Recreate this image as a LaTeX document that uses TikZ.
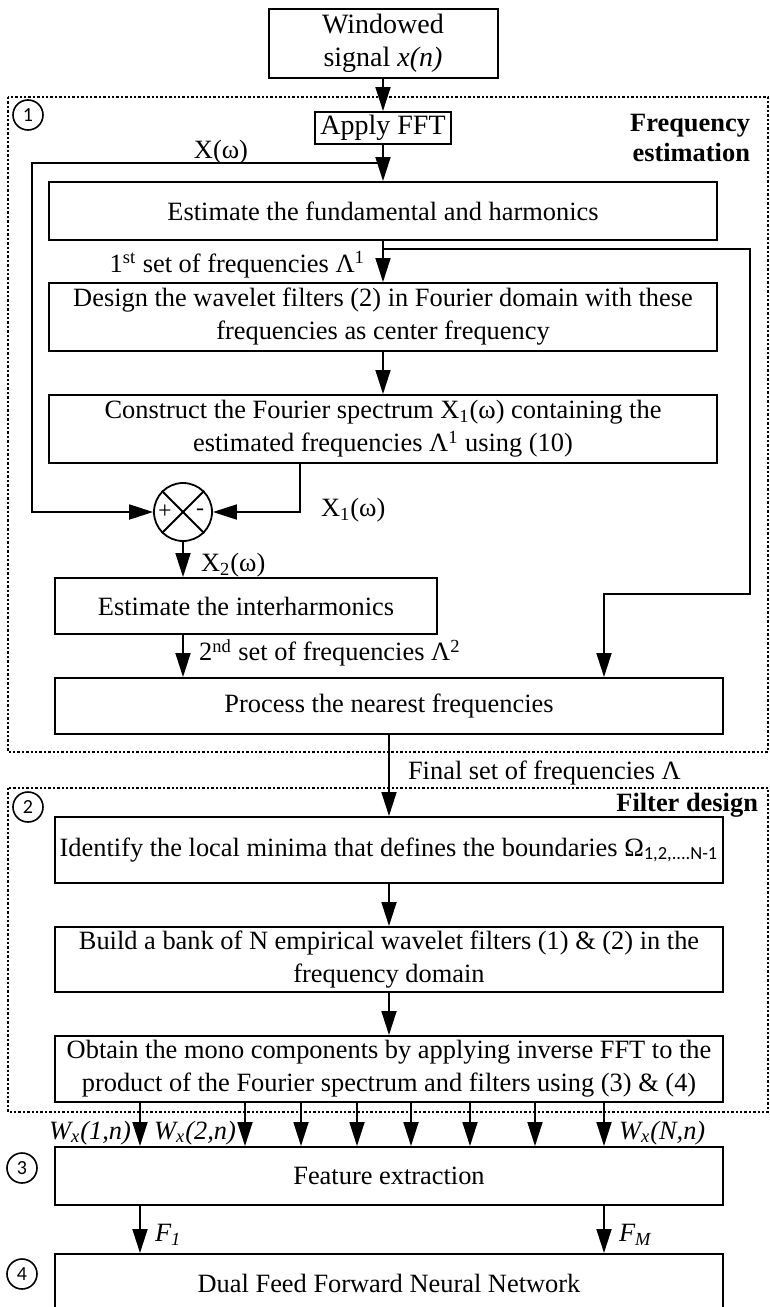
\documentclass[tikz,border=0pt]{standalone}
\usepackage{fontspec}
\setmainfont{Liberation Serif}
\newfontfamily\numfont{Carlito}
\usetikzlibrary{positioning, arrows.meta, calc}

\begin{document}
\begin{tikzpicture}[
    x=0.5pt, y=-0.5pt,
    >={Triangle[length=12pt, width=7.5pt]},
    font=\fontsize{13.2}{16.5}\selectfont,
    stage/.style={
        draw, line width=1pt, inner sep=0pt, align=center,
    },
    wide/.style={stage, minimum width=334pt},
    big/.style={font=\fontsize{14}{16.5}\selectfont},
    flow/.style={->, line width=0.9pt},
    group/.style={draw, line width=0.8pt, dash pattern=on 1.2pt off 1pt},
    tag/.style={
        draw, circle, line width=0.8pt, minimum size=15pt, inner sep=0pt,
        font=\numfont\fontsize{10}{10}\selectfont,
    },
    sumnode/.style={draw, circle, line width=0.9pt, minimum size=29pt, inner sep=0pt},
    title/.style={anchor=east, align=right, font=\bfseries\fontsize{13.2}{15}\selectfont},
    sig/.style={font=\fontsize{13.2}{16.5}\selectfont\itshape},
]

\useasboundingbox (0,0) rectangle (770,1307);

% dotted frames
\draw[group] (8,97) rectangle (768,752);
\draw[group] (8,788) rectangle (768,1112);

\node[tag] (t1) at (28,115) {1};
\node[tag] (t2) at (28,807) {2};
\node[tag] (t3) at (22,1168) {3};
\node[tag] (t4) at (22,1274) {4};

\node[title] (fe) at (757,138) {Frequency\\estimation};
\node[title] (fd) at (765,805) {Filter design};

% boxes
\node[stage, big, minimum width=114.5pt, minimum height=34.5pt] (win) at (383,43.5) {Windowed\\signal \textit{x(n)}};
\node[stage, big, minimum width=68pt, minimum height=16pt] (fft) at (383,128) {Apply FFT};
\node[wide, minimum height=29pt] (est) at (383,211) {Estimate the fundamental and harmonics};
\node[wide, minimum height=34pt] (design) at (383,317) {Design the wavelet filters (2) in Fourier domain with these\\frequencies as center frequency};
\node[wide, minimum height=34pt] (constr) at (383,429) {Construct the Fourier spectrum X\textsubscript{1}(ω) containing the\\estimated frequencies Λ\textsuperscript{1} using (10)};
\node[sumnode] (sum) at (183,512) {};
\node[stage, minimum width=191pt, minimum height=28pt] (inter) at (246,606) {Estimate the interharmonics};
\node[wide, minimum height=28pt] (proc) at (389,706) {Process the nearest frequencies};
\node[wide, minimum height=33pt] (ident) at (389,850) {Identify the local minima that defines the boundaries Ω\textsubscript{\numfont 1,2,....N-1}};
\node[wide, minimum height=32.5pt] (build) at (389,959.5) {Build a bank of N empirical wavelet filters (1) \& (2) in the\\frequency domain};
\node[wide, minimum height=33pt] (obtain) at (389,1069) {Obtain the mono components by applying inverse FFT to the\\product of the Fourier spectrum and filters using (3) \& (4)};
\node[wide, minimum height=29pt] (feat) at (389,1176) {Feature extraction};
\node[wide, minimum height=29pt] (dual) at (389,1283) {Dual Feed Forward Neural Network};

% summing junction
\draw[line width=0.9pt] (sum.north west) -- (sum.south east);
\draw[line width=0.9pt] (sum.north east) -- (sum.south west);
\node[font=\fontsize{12}{12}\selectfont] (plus) at ([xshift=-9pt]sum.center) {+};
\node[font=\fontsize{12}{12}\selectfont] (minus) at ([xshift=8.5pt]sum.center) {-};

% flow
\draw[flow] (win) -- (fft);
\draw[flow] (fft) -- (est);
\coordinate (fb) at (383,163);
\draw[flow] (fb) -- ++(-351,0) |- (sum.west);
\node (xw) at (221,152) {X(ω)};

\draw[flow] (est) -- (design);
\node[anchor=east] (set1) at (372,265) {1\textsuperscript{st} set of frequencies Λ\textsuperscript{1}};
\coordinate (br) at (383,249);
\coordinate (rt) at (604,594);
\draw[flow] (br) -| (750,594) -- (rt) -- (rt |- proc.north);

\draw[flow] (design) -- (constr);
\draw[flow] ([xshift=-41.5pt]constr.south) |- (sum.east);
\node[anchor=west] (x1) at (314,510) {X\textsubscript{1}(ω)};

\draw[flow] (sum) -- (sum |- inter.north);
\node[anchor=west] (x2) at (194,565) {X\textsubscript{2}(ω)};
\draw[flow] (sum |- inter.south) -- (sum |- proc.north);
\node[anchor=west] (set2) at (192,653) {2\textsuperscript{nd} set of frequencies Λ\textsuperscript{2}};

\draw[flow] (proc) -- (ident);
\node[anchor=west] (fin) at (401,773) {Final set of frequencies Λ};
\draw[flow] (ident) -- (build);
\draw[flow] (build) -- (obtain);

% mono components
\coordinate (wy) at (0,1133);
\foreach \x [count=\i] in {140,245,301,357,411,470,535,604} {
    \coordinate (w\i) at (\x,0);
    \draw[flow] (w\i |- obtain.south) -- (w\i |- feat.north);
}
\node[sig, left=1pt] (wl1) at (w1 |- wy) {W\textsubscript{x}(1,n)};
\node[sig, left=1pt] (wl2) at (w2 |- wy) {W\textsubscript{x}(2,n)};
\node[sig, right=4pt] (wlN) at (w8 |- wy) {W\textsubscript{x}(N,n)};

% features
\coordinate (fy) at (0,1235);
\draw[flow] (w1 |- feat.south) -- (w1 |- dual.north);
\draw[flow] (w8 |- feat.south) -- (w8 |- dual.north);
\node[sig, right=4pt] (f1) at (w1 |- fy) {F\textsubscript{1}};
\node[sig, right=4pt] (fm) at (w8 |- fy) {F\textsubscript{M}};

\end{tikzpicture}
\end{document}
